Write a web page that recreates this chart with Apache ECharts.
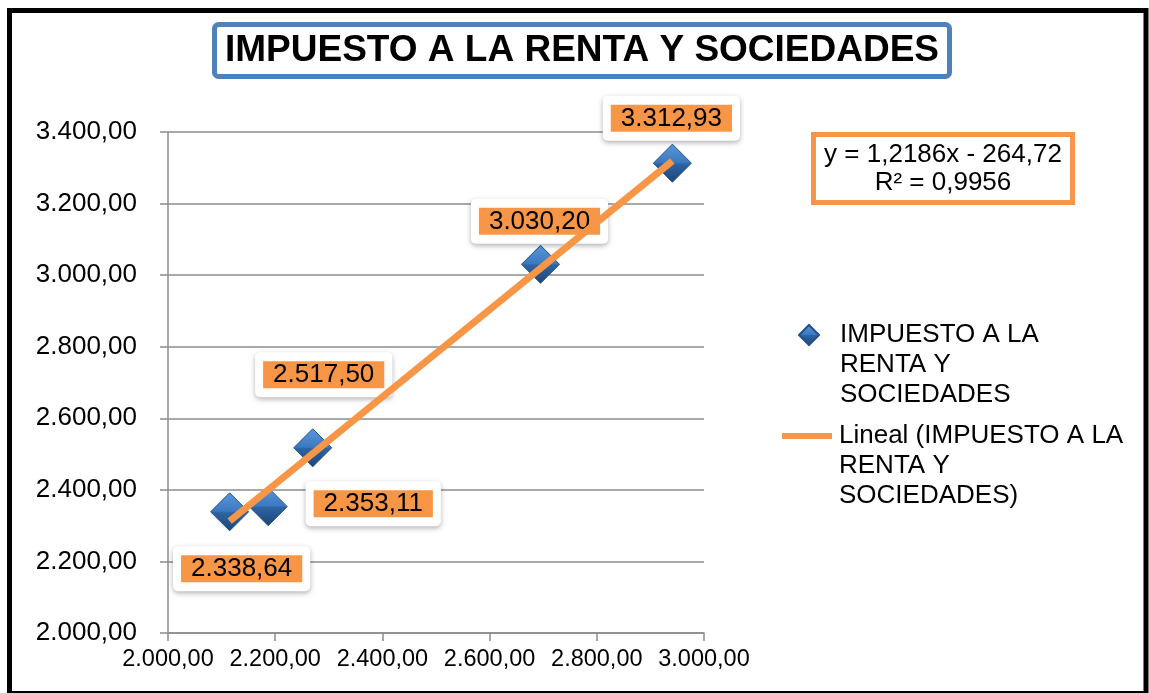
<!DOCTYPE html>
<html>
<head>
<meta charset="utf-8">
<title>Impuesto a la renta y sociedades</title>
<script src="https://cdn.jsdelivr.net/npm/echarts@6/dist/echarts.min.js"></script>
<style>
html, body { margin: 0; padding: 0; background: #fff; }
#chart { width: 1149px; height: 693px; }
</style>
</head>
<body>
<div id="chart"></div>
<script>
var chartTitle = 'IMPUESTO A LA RENTA Y SOCIEDADES';
var seriesName = 'IMPUESTO A LA RENTA Y SOCIEDADES';
var trendName = 'Lineal (IMPUESTO A LA RENTA Y SOCIEDADES)';
var legendLines = ['IMPUESTO A LA', 'RENTA Y', 'SOCIEDADES'];
var trendLegendLines = ['Lineal (IMPUESTO A LA', 'RENTA Y', 'SOCIEDADES)'];

var xValues = [2115, 2187, 2270, 2695, 2941];
var yValues = [2338.64, 2353.11, 2517.50, 3030.20, 3312.93];

var trendSlope = 1.2186;
var trendIntercept = -264.72;
var rSquared = 0.9956;

var axisMin = 2000, xMax = 3000, yMax = 3400, tickStep = 200;

// where each data label box sits relative to its point
var labelOffsets = [[12, 57], [105, -3], [11, -73], [-1, -43], [-1, -45]];

var FONT = '"Liberation Sans", Arial, sans-serif';
var ORANGE = '#F79646';
var GRIDGRAY = '#8c8c8c';

// 2338.64 -> "2.338,64"
function fmtEs(v, d) {
  var parts = v.toFixed(d).split('.');
  var ent = parts[0].replace(/\B(?=(\d{3})+(?!\d))/g, '.');
  return parts.length > 1 ? ent + ',' + parts[1] : ent;
}

// legend text is centred on the icon, so pad with empty lines above
// to bring the first line level with the icon (like excel does)
function legendText(lines) {
  var pad = [];
  for (var k = 1; k < lines.length; k++) pad.push('');
  return pad.concat(lines).join('\n');
}

var points = [];
for (var i = 0; i < xValues.length; i++) {
  points.push({
    value: [xValues[i], yValues[i]],
    label: { offset: labelOffsets[i] }
  });
}

var xLo = Math.min.apply(null, xValues), xHi = Math.max.apply(null, xValues);
var trendData = [
  [xLo, trendSlope * xLo + trendIntercept],
  [xHi, trendSlope * xHi + trendIntercept]
];

var eqText = 'y = ' + fmtEs(trendSlope, 4) + 'x ' + (trendIntercept < 0 ? '- ' : '+ ') +
  fmtEs(Math.abs(trendIntercept), 2) + '\nR² = ' + fmtEs(rSquared, 4);

var myChart = echarts.init(document.getElementById('chart'), null, { renderer: 'canvas' });

var option = {
  animation: false,
  backgroundColor: '#fff',
  title: {
    text: chartTitle,
    left: 214,
    top: 24,
    padding: [8, 11],
    borderColor: '#4F81BD',
    borderWidth: 5,
    borderRadius: 4,
    backgroundColor: '#fff',
    textStyle: { fontFamily: FONT, fontSize: 37, fontWeight: 'bold', color: '#000' }
  },
  grid: {
    left: 168, right: 445, top: 132, bottom: 60,
    containLabel: false,
    outerBoundsMode: 'none'
  },
  xAxis: {
    type: 'value',
    min: axisMin, max: xMax, interval: tickStep,
    splitLine: { show: false },
    axisLine: { show: true, onZero: false, lineStyle: { color: GRIDGRAY, width: 1.5 } },
    axisTick: { show: true, length: 8, lineStyle: { color: GRIDGRAY, width: 1.5 } },
    axisLabel: {
      margin: 15, color: '#000', fontFamily: FONT, fontSize: 23.5,
      formatter: function (v) { return fmtEs(v, 2); }
    }
  },
  yAxis: {
    type: 'value',
    min: axisMin, max: yMax, interval: tickStep,
    splitLine: { show: true, lineStyle: { color: GRIDGRAY, width: 1.5 } },
    axisLine: { show: true, onZero: false, lineStyle: { color: GRIDGRAY, width: 1.5 } },
    axisTick: { show: true, length: 8, lineStyle: { color: GRIDGRAY, width: 1.5 } },
    axisLabel: {
      margin: 31, color: '#000', fontFamily: FONT, fontSize: 26,
      formatter: function (v) { return fmtEs(v, 2); }
    }
  },
  legend: [
    {
      orient: 'vertical', left: 798, top: 260, padding: 0,
      itemWidth: 20, itemHeight: 20, selectedMode: false,
      data: [{ name: seriesName, icon: 'diamond' }],
      formatter: function () { return legendText(legendLines); },
      textStyle: { fontFamily: FONT, fontSize: 26, lineHeight: 30, color: '#000', padding: [0, 0, 0, 16] }
    },
    {
      orient: 'vertical', left: 782, top: 361, padding: 0,
      itemWidth: 50, itemHeight: 6, selectedMode: false,
      data: [{ name: trendName, icon: 'rect' }],
      formatter: function () { return legendText(trendLegendLines); },
      textStyle: { fontFamily: FONT, fontSize: 26, lineHeight: 30, color: '#000', padding: [0, 0, 0, 2] }
    }
  ],
  graphic: [
    {
      type: 'rect', z: -10, silent: true,
      shape: { x: 9.5, y: 10.5, width: 1136.5, height: 683 },
      style: { fill: 'none', stroke: '#000', lineWidth: 5 }
    },
    {
      type: 'rect', z: 10, silent: true,
      shape: { x: 813.5, y: 134.5, width: 259, height: 68 },
      style: { fill: '#fff', stroke: ORANGE, lineWidth: 5 }
    },
    {
      type: 'text', z: 11, silent: true,
      x: 943, y: 169,
      style: {
        text: eqText, fill: '#000', font: '26px ' + FONT,
        textAlign: 'center', textVerticalAlign: 'middle', lineHeight: 28
      }
    }
  ],
  series: [
    {
      name: seriesName,
      type: 'scatter',
      z: 3,
      symbol: 'diamond',
      symbolSize: 38,
      itemStyle: {
        opacity: 1,
        color: new echarts.graphic.LinearGradient(0, 0, 0, 1, [
          { offset: 0, color: '#5a98dc' },
          { offset: 0.48, color: '#3c79c0' },
          { offset: 0.52, color: '#2d64a3' },
          { offset: 1, color: '#1d4476' }
        ]),
        borderColor: '#23508a',
        borderWidth: 1
      },
      label: {
        show: true,
        opacity: 1,
        position: 'inside',
        formatter: function (p) { return '{v|' + fmtEs(p.value[1], 2) + '}'; },
        backgroundColor: '#fff',
        padding: [8, 8],
        borderRadius: 5,
        shadowBlur: 5,
        shadowColor: 'rgba(0,0,0,0.3)',
        shadowOffsetY: 2,
        rich: {
          v: {
            backgroundColor: ORANGE,
            color: '#000',
            fontFamily: FONT,
            fontSize: 26,
            lineHeight: 29,
            padding: [1, 10, 0, 10]
          }
        }
      },
      data: points
    },
    {
      name: trendName,
      type: 'line',
      z: 5,
      silent: true,
      symbol: 'none',
      itemStyle: { color: ORANGE },
      lineStyle: { color: ORANGE, width: 7 },
      data: trendData
    }
  ]
};
myChart.setOption(option);
</script>
</body>
</html>
